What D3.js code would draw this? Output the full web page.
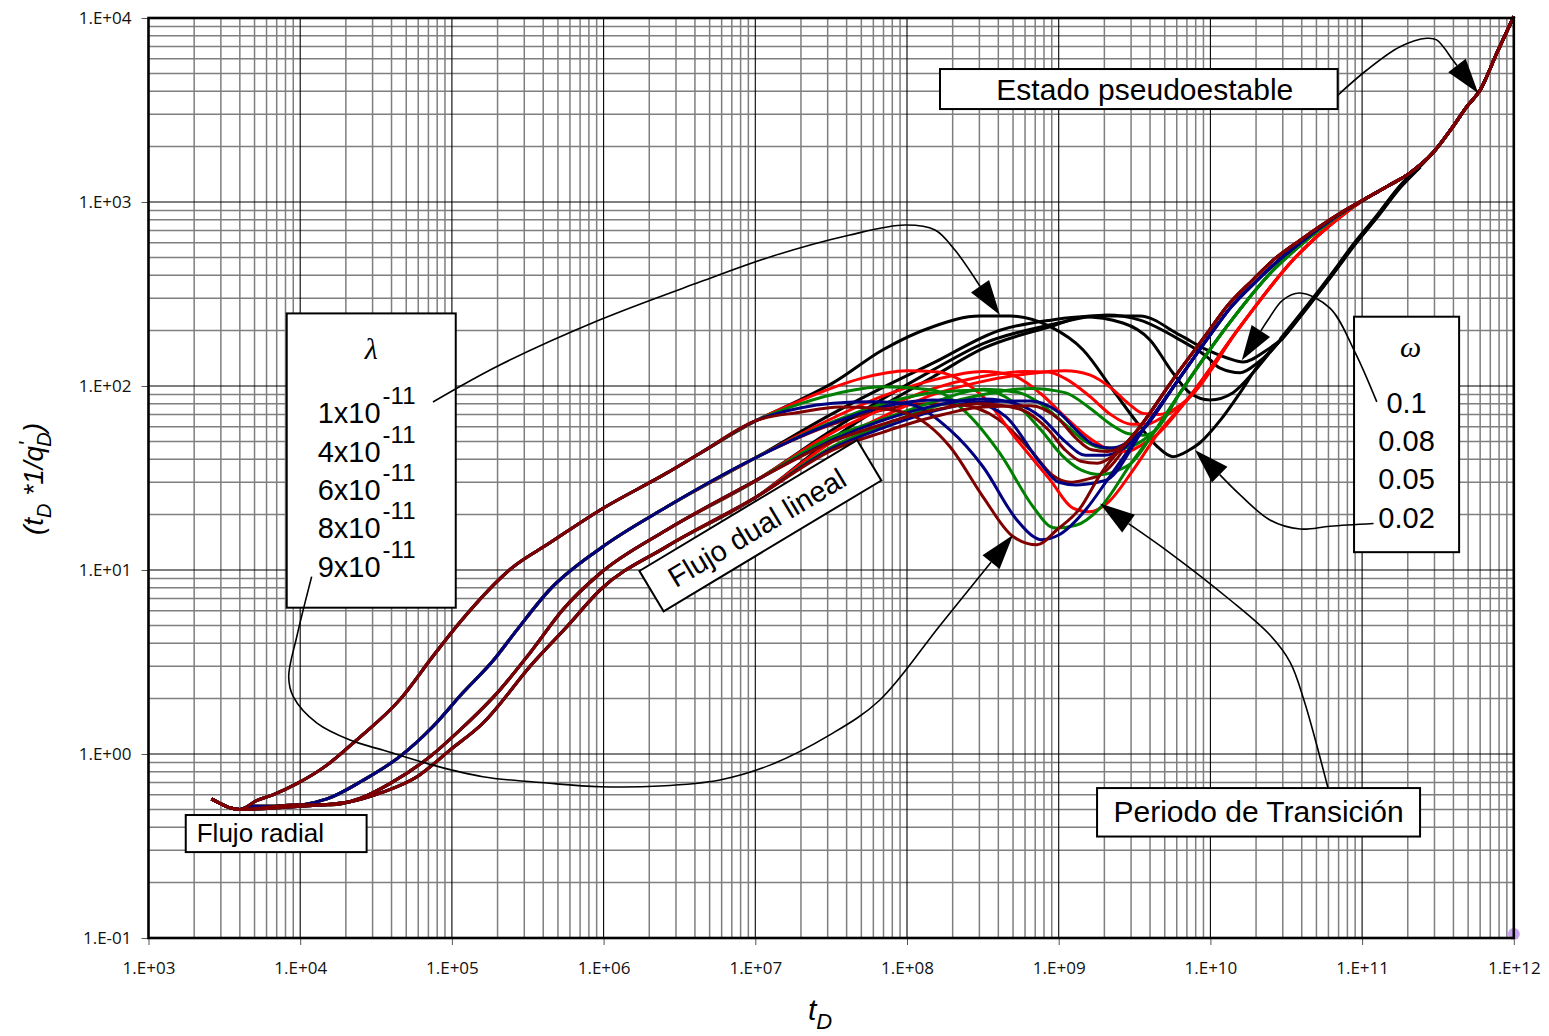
<!DOCTYPE html>
<html>
<head>
<meta charset="utf-8">
<script src="https://cdn.jsdelivr.net/npm/d3@7"></script>
<style>
  body { margin: 0; background: #fff; }
  svg { display: block; }
</style>
</head>
<body>
<svg id="chart" width="1549" height="1036"></svg>
<script>
// ---- data ----
const xDomain = [1e3, 1e12];
const yDomain = [1e-1, 1e4];
const lambdaLabels = ["1x10", "4x10", "6x10", "8x10", "9x10"];
const lambdaExp = "-11";
const omegaLabels = ["0.1", "0.08", "0.05", "0.02"];
// one colour per lambda: 1e-11, 4e-11, 6e-11, 8e-11, 9e-11
const lambdaColors = ["#000000", "#ff0000", "#008000", "#000080", "#800000"];

// early time (radial + dual linear), one per omega (0.02, 0.05, 0.08, 0.1)
const earlyW002 = [[2.6e3,0.57],[4.0e3,0.50],[5.2e3,0.56],[6.6e3,0.60],[9.5e3,0.69],[1.5e4,0.87],[2.35e4,1.19],[4.6e4,2.0],[7.5e4,3.4],[1.13e5,5.2],[2.5e5,10.3],[4.4e5,14],[9.5e5,21.2],[2.6e6,33.6],[4.3e6,43],[1.02e7,65]];
const earlyW005 = [[2.6e3,0.57],[4.0e3,0.50],[4.7e3,0.52],[7.7e3,0.52],[1.5e4,0.57],[2.6e4,0.72],[4.55e4,0.97],[7.5e4,1.41],[1.18e5,2.15],[1.86e5,3.2],[2.67e5,4.7],[4.4e5,7.8],[9.5e5,13.1],[2.6e6,22],[1.02e7,41]];
const earlyW008 = [[2.6e3,0.57],[4.0e3,0.50],[1.0e4,0.53],[1.57e4,0.53],[2.5e4,0.575],[3.9e4,0.69],[7.2e4,0.97],[1.13e5,1.35],[2.07e5,2.23],[3.27e5,3.54],[5.4e5,6.1],[9.5e5,9.6],[2.6e6,16.5],[1.02e7,30.8]];
const earlyW010 = [[2.6e3,0.57],[4.0e3,0.50],[1.0e4,0.52],[2.13e4,0.55],[3.5e4,0.62],[5.85e4,0.75],[9.7e4,1.05],[1.6e5,1.47],[3.4e5,3.1],[5.7e5,4.9],[9.5e5,7.8],[2.6e6,13.4],[1.02e7,25]];

// hump + transition trough, per lambda, ordered by omega (0.02, 0.05, 0.08, 0.1)
const humpBlack = [
  [[1.97e7,84],[3.25e7,104],[6.9e7,157],[1.48e8,210],[3.0e8,240],[4.8e8,240],[8.8e8,210],[1.45e9,157],[2.28e9,95],[3.3e9,63],[4.45e9,47],[5.65e9,41.3],[7.3e9,45],[8.5e9,49],[1.16e10,65],[1.57e10,92],[2.03e10,127]],
  [[3.25e7,71],[6.9e7,98],[1.48e8,133],[4.1e8,201],[8.8e8,228],[1.45e9,238],[2.65e9,220],[4.0e9,178],[5.65e9,118],[7.3e9,92],[9.95e9,84],[1.41e10,92],[1.91e10,118],[2.4e10,148]],
  [[3.25e7,58],[6.9e7,85],[1.48e8,122],[3.17e8,170],[8.8e8,215],[2.08e9,243],[3.43e9,228],[6.3e9,178],[9.5e9,144],[1.16e10,125],[1.57e10,118],[2.03e10,133],[2.5e10,155]],
  [[3.25e7,52],[6.9e7,78],[1.48e8,112],[3.17e8,160],[8.8e8,210],[1.6e9,240],[3.43e9,240],[6.3e9,189],[9.5e9,157],[1.29e10,142],[1.64e10,135],[2.36e10,157]]
];
const humpRed = [
  [[1.97e7,83],[3.25e7,98],[5e7,110],[1e8,121],[1.6e8,119],[2.24e8,108],[3.17e8,87.5],[5.3e8,51],[8.8e8,30.8],[1.24e9,21.7]],
  [[3.25e7,67],[6.9e7,88],[1.5e8,108],[3.17e8,120],[5e8,114],[7.6e8,91],[1.1e9,68],[1.6e9,52],[2.2e9,45],[2.8e9,44],[3.4e9,47]],
  [[3.25e7,56],[6.9e7,75],[1.5e8,97],[3e8,112],[6e8,120],[8.5e8,119],[1.1e9,110],[1.6e9,88],[2.2e9,70],[3e9,62],[3.8e9,62],[4.6e9,66]],
  [[3.25e7,50],[6.9e7,68],[1.5e8,90],[3e8,105],[6e8,116],[1.1e9,121],[1.6e9,115],[2.2e9,98],[2.9e9,80],[3.6e9,71],[4.6e9,70],[5.8e9,75]]
];
const humpGreen = [
  [[1.97e7,80],[3.25e7,90],[6.9e7,99],[1.48e8,95],[2.49e8,71],[4.1e8,43],[6.8e8,22],[8.8e8,17.2]],
  [[3.25e7,64],[6.9e7,80],[1.48e8,92],[3.2e8,95],[5e8,82],[7.6e8,58],[1.05e9,42],[1.4e9,35],[1.9e9,33],[2.5e9,35]],
  [[3.25e7,53],[6.9e7,66],[1.5e8,82],[3.2e8,96],[5.5e8,92],[7.6e8,80],[1.1e9,62],[1.5e9,50],[2.0e9,46],[2.7e9,46],[3.5e9,50]],
  [[3.25e7,47],[6.9e7,61],[1.5e8,77],[3.2e8,90],[6.5e8,97],[1.1e9,92],[1.6e9,76],[2.2e9,62],[2.9e9,55],[3.6e9,54]]
];
const humpBlue = [
  [[1.97e7,76],[3.25e7,80.5],[6e7,82],[1e8,80],[1.92e8,57.7],[3.17e8,36.4],[5.3e8,18.7],[6.8e8,15.2]],
  [[3.25e7,63],[6.9e7,77],[1.48e8,84],[2.6e8,82],[4.5e8,68],[7.6e8,38],[1.0e9,30],[1.3e9,29],[1.8e9,30]],
  [[3.25e7,51],[6.9e7,65],[1.5e8,78],[3.2e8,85],[5.5e8,79],[7.6e8,68],[1.1e9,50],[1.5e9,42],[2.0e9,42],[2.6e9,45]],
  [[3.25e7,46],[6.9e7,59],[1.5e8,73],[3.2e8,82],[6.5e8,83],[1e9,72],[1.35e9,56],[1.7e9,48],[2.2e9,46],[2.8e9,49]]
];
const humpMaroon = [
  [[1.97e7,72],[3.6e7,77],[6e7,76],[1e8,71],[1.92e8,46.8],[3.17e8,25],[5.0e8,15.2]],
  [[3.25e7,62],[6.9e7,74],[1.3e8,80],[2.2e8,79],[4e8,66],[6.5e8,45],[9e8,33],[1.2e9,30],[1.5e9,31]],
  [[3.25e7,50],[6.9e7,62],[1.5e8,74],[3e8,80],[5.5e8,75],[8.5e8,58],[1.1e9,45],[1.4e9,39],[1.8e9,38],[2.3e9,42]],
  [[3.25e7,45],[6.9e7,56],[1.5e8,68],[3.2e8,77],[6.5e8,78],[1e9,66],[1.3e9,52],[1.65e9,45],[2.1e9,44],[2.7e9,48]]
];

// late rise towards pseudo-steady state, per lambda
const lateBlack = [[2.9e10,178],[4.5e10,280],[7.2e10,466],[8.3e10,548],[1.25e11,832],[1.78e11,1210],[2.4e11,1560]];
const lateRed = [[1.6e9,20.7],[2.08e9,23],[3.1e9,35],[4.5e9,55],[7.0e9,84],[1.57e10,210],[3.5e10,484],[7.2e10,832]];
const lateGreen = [[9.7e8,16.9],[1.3e9,17.5],[1.87e9,21.7],[3.0e9,38],[4.3e9,57],[6.3e9,91.6],[1.28e10,210],[2.6e10,427],[4.3e10,620],[7.2e10,860]];
const lateBlue = [[7.6e8,14.6],[1.0e9,15.5],[1.53e9,21.6],[2.1e9,31],[3.6e9,58],[6.0e9,105],[1.0e10,190],[1.35e10,265],[2.0e10,370],[2.8e10,480],[4.1e10,620],[7.2e10,865]];
const lateMaroon = [[7.2e8,13.7],[9.7e8,16.5],[1.38e9,21.6],[1.87e9,32.8],[3.43e9,60],[5.65e9,108],[9.5e9,193],[1.28e10,270],[1.9e10,377],[2.6e10,484],[3.9e10,620],[7.2e10,871]];
// common pseudo-steady-state branch
const pssLine = [[1.07e11,1050],[1.53e11,1240],[2.07e11,1440],[2.93e11,1850],[3.97e11,2570],[4.9e11,3300],[6.0e11,4060],[7.7e11,6400],[1.0e12,1.02e4]];
const cornerMarker = [[1e12, 0.1]];

// annotation leaders (data coordinates, last point = arrow tip)
const arrowPss = [[6.9e10,3.8e3],[1.07e11,5.2e3],[1.78e11,6.98e3],[2.67e11,7.76e3],[3.1e11,7.6e3],[3.97e11,5.9e3],[5.83e11,3.9e3]];
const arrowLambda1 = [[7.5e4,81.8],[2.07e5,130],[9.47e5,229],[4.3e6,367],[1.31e7,509],[4.2e7,662],[9.7e7,750],[1.53e8,705],[2.07e8,548],[4.1e8,243]];
const arrowLambda9 = [[1.19e4,9.2],[9.5e3,4.35],[8.4e3,2.63],[9.0e3,2.05],[1.29e4,1.47],[2.13e4,1.19],[3.5e4,1.05],[7.5e4,0.87],[1.6e5,0.753],[4.4e5,0.693],[9.5e5,0.664],[2.35e6,0.67],[5.85e6,0.723],[1.25e7,0.87],[3.1e7,1.27],[6.6e7,1.96],[1.65e8,5.0],[5.0e8,15.5]];
const arrowOmega01 = [[1.25e11,82],[8.97e10,153],[6.14e10,265],[3.9e10,320],[3.0e10,293],[2.4e10,229],[1.61e10,138]];
const arrowOmega002 = [[1.19e11,17.9],[6.14e10,17.3],[3.9e10,16.7],[2.47e10,18.7],[1.57e10,25.6],[7.9e9,44.9]];
const arrowTransition = [[5.96e10,0.653],[4.14e10,1.96],[3.35e10,3.16],[2.47e10,4.43],[1.35e10,6.87],[5.4e9,12.4],[1.87e9,23]];

// label boxes (data-space corners)
const boxPss = [[1.65e8,5.28e3],[6.9e10,3.2e3]];
const boxLambda = [[8.15e3,248],[1.06e5,6.24]];
const boxOmega = [[8.85e10,238],[4.36e11,12.5]];
const boxRadial = [[1.76e3,0.466],[2.74e4,0.293]];
const boxTransition = [[1.79e9,0.653],[2.41e11,0.356]];
const dualCenter = [1.08e7,17.4];

// ---- drawing ----
const svg = d3.select("#chart");
const W = 1549, H = 1036;
const margin = {left: 148.5, right: W - 1513.8, top: 18, bottom: H - 938};

const x = d3.scaleLog().domain(xDomain).range([margin.left, W - margin.right]);
const y = d3.scaleLog().domain(yDomain).range([H - margin.bottom, margin.top]);

const decadesX = d3.range(3, 13);
const decadesY = d3.range(-1, 5);
const minorX = [], minorY = [];
decadesX.slice(0, -1).forEach(e => d3.range(2, 10).forEach(k => minorX.push(k * Math.pow(10, e))));
decadesY.slice(0, -1).forEach(e => d3.range(2, 10).forEach(k => minorY.push(k * Math.pow(10, e))));
const majorX = decadesX.map(e => Math.pow(10, e));
const majorY = decadesY.map(e => Math.pow(10, e));

const grid = svg.append("g");
grid.selectAll("line.vmin").data(minorX).join("line")
  .attr("x1", d => x(d)).attr("x2", d => x(d))
  .attr("y1", y(yDomain[0])).attr("y2", y(yDomain[1]))
  .attr("stroke", "#7f7f7f").attr("stroke-width", 1.5);
grid.selectAll("line.hmin").data(minorY).join("line")
  .attr("y1", d => y(d)).attr("y2", d => y(d))
  .attr("x1", x(xDomain[0])).attr("x2", x(xDomain[1]))
  .attr("stroke", "#7f7f7f").attr("stroke-width", 1.5);
grid.selectAll("line.vmaj").data(majorX).join("line")
  .attr("x1", d => x(d)).attr("x2", d => x(d))
  .attr("y1", y(yDomain[0])).attr("y2", y(yDomain[1]))
  .attr("stroke", "#000").attr("stroke-width", 1.1);
grid.selectAll("line.hmaj").data(majorY).join("line")
  .attr("y1", d => y(d)).attr("y2", d => y(d))
  .attr("x1", x(xDomain[0])).attr("x2", x(xDomain[1]))
  .attr("stroke", "#000").attr("stroke-width", 1.1);

// axes
const expFmt = d => {
  const e = Math.round(Math.log10(d));
  return "1.E" + (e < 0 ? "-" : "+") + String(Math.abs(e)).padStart(2, "0");
};
const axisFont = "17px 'Open Sans', 'Liberation Sans', sans-serif";
const yAxis = svg.append("g").attr("transform", `translate(${margin.left},0)`)
  .call(d3.axisLeft(y).tickValues(majorY).tickFormat(expFmt).tickSize(7).tickPadding(10));
const xAxis = svg.append("g").attr("transform", `translate(0,${H - margin.bottom})`)
  .call(d3.axisBottom(x).tickValues(majorX).tickFormat(expFmt).tickSize(7).tickPadding(17));
[xAxis, yAxis].forEach(a => {
  a.select(".domain").remove();
  a.selectAll(".tick line").attr("stroke", "#555");
  a.selectAll(".tick text").style("font", axisFont).attr("fill", "#111");
});

// curves
const line = d3.line().x(d => x(d[0])).y(d => y(d[1])).curve(d3.curveMonotoneX);
const early = [earlyW002, earlyW005, earlyW008, earlyW010];
const humps = [humpBlack, humpRed, humpGreen, humpBlue, humpMaroon];
const lates = [lateBlack, lateRed, lateGreen, lateBlue, lateMaroon];

function buildSeries(c, w) {
  const h = humps[c][w];
  const t0 = h[0][0], t1 = h[h.length - 1][0];
  const late = lates[c].filter(d => d[0] > t1);
  const lastT = late.length ? late[late.length - 1][0] : t1;
  return [...early[w].filter(d => d[0] < t0), ...h, ...late, ...pssLine.filter(d => d[0] > lastT)];
}

const order = [[4, 1]];
d3.range(5).forEach(c => d3.range(4).forEach(w => { if (!(c === 4 && w === 1)) order.push([c, w]); }));
const curves = svg.append("g").attr("fill", "none").attr("stroke-linejoin", "round");
order.forEach(([c, w]) => {
  curves.append("path")
    .attr("d", line(buildSeries(c, w)))
    .attr("stroke", lambdaColors[c])
    .attr("stroke-width", 3);
  if (c === 0 && w === 3) {
    curves.append("path").attr("d", line(lateBlack))
      .attr("stroke", "#000").attr("stroke-width", 4.6);
  }
});

svg.selectAll("circle.marker").data(cornerMarker).join("circle")
  .attr("cx", d => x(d[0])).attr("cy", d => y(d[1]) - 4).attr("r", 6)
  .attr("fill", "#c9a3f3");

// frame
svg.append("rect")
  .attr("x", x(xDomain[0])).attr("y", y(yDomain[1]))
  .attr("width", x(xDomain[1]) - x(xDomain[0]))
  .attr("height", y(yDomain[0]) - y(yDomain[1]))
  .attr("fill", "none").attr("stroke", "#000").attr("stroke-width", 2.6);

// annotations: boxes first, leaders over them, then text
const boxLayer = svg.append("g");
const arrowLayer = svg.append("g");
const textLayer = svg.append("g");
const labelFont = "'Liberation Sans', Arial, sans-serif";

function arrow(pts, headLen = 35, headW = 22) {
  const p = pts.map(d => [x(d[0]), y(d[1])]);
  const tip = p[p.length - 1], prev = p[p.length - 2];
  const dx = tip[0] - prev[0], dy = tip[1] - prev[1];
  const len = Math.hypot(dx, dy), ux = dx / len, uy = dy / len;
  const base = [tip[0] - ux * headLen, tip[1] - uy * headLen];
  const pathPts = [...p.slice(0, -1), base];
  arrowLayer.append("path")
    .attr("d", d3.line().curve(d3.curveCatmullRom.alpha(0.5))(pathPts))
    .attr("fill", "none").attr("stroke", "#000").attr("stroke-width", 1.6);
  arrowLayer.append("path")
    .attr("d", d3.line()([tip, [base[0] - uy * headW / 2, base[1] + ux * headW / 2], [base[0] + uy * headW / 2, base[1] - ux * headW / 2]]) + "Z")
    .attr("fill", "#000");
}

function box(corners) {
  const x0 = x(corners[0][0]), x1 = x(corners[1][0]);
  const y0 = y(corners[0][1]), y1 = y(corners[1][1]);
  boxLayer.append("rect").attr("x", x0).attr("y", y0)
    .attr("width", x1 - x0).attr("height", y1 - y0)
    .attr("fill", "#fff").attr("stroke", "#000").attr("stroke-width", 2);
  return {x0, x1, y0, y1};
}

// pseudo-steady state label
let b = box(boxPss);
textLayer.append("text").attr("x", (b.x0 + b.x1) / 2 + 6).attr("y", b.y0 + 31)
  .attr("text-anchor", "middle").style("font", `30px ${labelFont}`).text("Estado pseudoestable");

// transition label
b = box(boxTransition);
textLayer.append("text").attr("x", (b.x0 + b.x1) / 2).attr("y", b.y0 + 34)
  .attr("text-anchor", "middle").style("font", `30px ${labelFont}`).text("Periodo de Transición");

// radial flow label
b = box(boxRadial);
textLayer.append("text").attr("x", b.x0 + 11).attr("y", b.y0 + 27)
  .style("font", `26px ${labelFont}`).text("Flujo radial");

// dual linear label (rotated)
const dual = boxLayer.append("g")
  .attr("transform", `translate(${x(dualCenter[0])},${y(dualCenter[1])}) rotate(-31)`);
dual.append("rect").attr("x", -127).attr("y", -23.5).attr("width", 254).attr("height", 47)
  .attr("fill", "#fff").attr("stroke", "#000").attr("stroke-width", 2);
dual.append("text").attr("x", -4).attr("y", 10).attr("text-anchor", "middle")
  .style("font", `29px ${labelFont}`).text("Flujo dual lineal");

// lambda legend box
b = box(boxLambda);
textLayer.append("text").attr("x", (b.x0 + b.x1) / 2).attr("y", b.y0 + 46)
  .attr("text-anchor", "middle").style("font", "italic 30px 'Liberation Serif', serif").text("λ");
lambdaLabels.forEach((t, i) => {
  const tx = textLayer.append("text").attr("x", b.x0 + 31).attr("y", b.y0 + 110 + i * 38.3)
    .style("font", `29px ${labelFont}`);
  tx.append("tspan").text(t);
  tx.append("tspan").attr("dy", -19).attr("dx", 2).style("font-size", "24px").text(lambdaExp);
});

// omega legend box
b = box(boxOmega);
textLayer.append("text").attr("x", (b.x0 + b.x1) / 2 + 4).attr("y", b.y0 + 40)
  .attr("text-anchor", "middle").style("font", "italic 30px 'Liberation Serif', serif").text("ω");
omegaLabels.forEach((t, i) => {
  textLayer.append("text").attr("x", (b.x0 + b.x1) / 2).attr("y", b.y0 + 96 + i * 38.3)
    .attr("text-anchor", "middle").style("font", `29px ${labelFont}`).text(t);
});

[arrowPss, arrowLambda1, arrowLambda9, arrowOmega01, arrowOmega002, arrowTransition].forEach(a => arrow(a));

// axis titles
const yTitle = svg.append("text")
  .attr("transform", "translate(43,479) rotate(-90)")
  .attr("text-anchor", "middle")
  .style("font", `italic 28px ${labelFont}`);
yTitle.append("tspan").text("(t");
yTitle.append("tspan").attr("dy", 8).style("font-size", "20px").text("D");
yTitle.append("tspan").attr("dy", -8).text(" *1/q");
yTitle.append("tspan").attr("dy", -9).style("font-size", "22px").text("'");
yTitle.append("tspan").attr("dy", 17).attr("dx", -5).style("font-size", "20px").text("D");
yTitle.append("tspan").attr("dy", -8).text(")");

const xTitle = svg.append("text").attr("x", 808).attr("y", 1020)
  .style("font", `italic 30px ${labelFont}`);
xTitle.append("tspan").text("t");
xTitle.append("tspan").attr("dy", 9).style("font-size", "22px").text("D");
</script>
</body>
</html>
